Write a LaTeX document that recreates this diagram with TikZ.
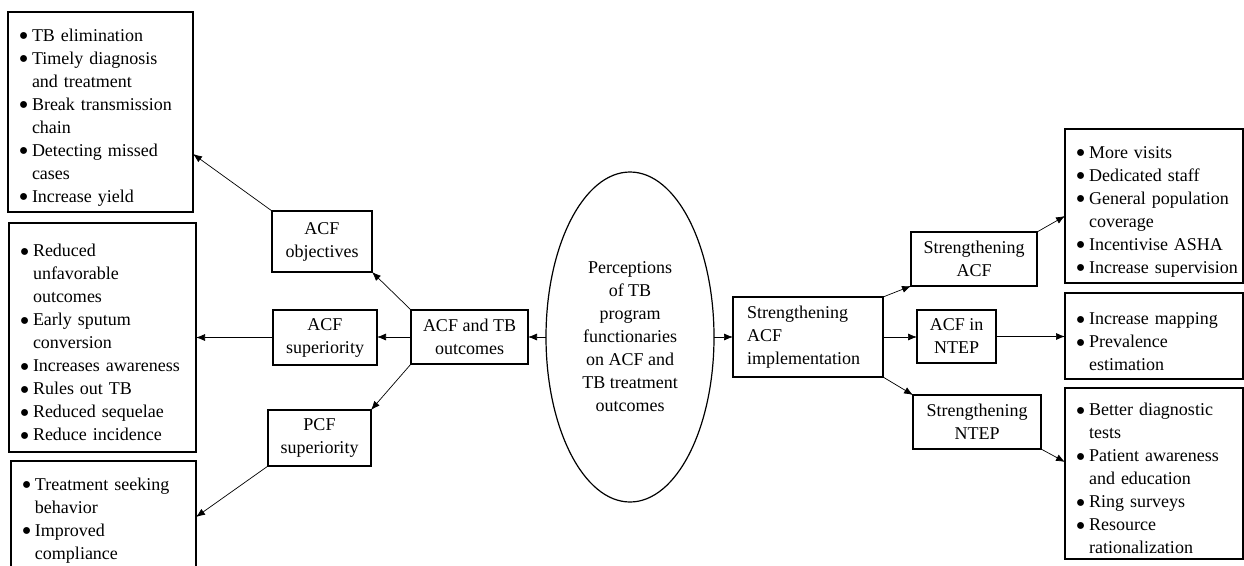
\documentclass[tikz,border=0pt]{standalone}
\usepackage{fontspec}
\setmainfont{Liberation Serif}
\usetikzlibrary{shapes.geometric,arrows.meta}
\newcommand\bi[1]{\par\noindent\makebox[12pt][l]{\hspace*{-1.5pt}\raisebox{-4.6pt}[0pt][0pt]{\scalebox{1.6}{\textbullet}}}\mbox{#1}}
\newcommand\cl[1]{\par\noindent\hspace*{12pt}\mbox{#1}}
\tikzset{
  box/.style={draw, line width=1.1pt, inner sep=0pt, outer sep=0pt, anchor=north west,
    font=\fontsize{18}{23}\selectfont},
  listbox/.style={box, inner xsep=12pt, align=left},
  smallbox/.style={box, align=center},
  conn/.style={-{Latex[length=9pt,width=7pt]}, line width=0.7pt}
}
\begin{document}
\begin{tikzpicture}[x=1pt,y=-1pt]
\useasboundingbox (0,0) rectangle (1244,565);
\clip (0,0) rectangle (1244,565);
\fill[white] (0,0) rectangle (1244,565);
% left lists
\node[listbox, minimum width=185pt, minimum height=200pt, text width=161pt] (b1) at (8,12)
 {\bi{TB elimination}\bi{Timely diagnosis}\cl{and treatment}\bi{Break transmission}\cl{chain}\bi{Detecting missed}\cl{cases}\bi{Increase yield}};
\node[listbox, minimum width=187pt, minimum height=229pt, text width=163pt] (b2) at (9,223)
 {\bi{Reduced}\cl{unfavorable}\cl{outcomes}\bi{Early sputum}\cl{conversion}\bi{Increases awareness}\bi{Rules out TB}\bi{Reduced sequelae}\bi{Reduce incidence}};
\node[listbox, minimum width=185pt, minimum height=108pt, text width=161pt] (b3) at (11,461)
 {\bi{Treatment seeking}\cl{behavior}\bi{Improved}\cl{compliance}};
% left small boxes
\node[smallbox, minimum width=100pt, minimum height=61pt] (acfobj) at (272,211) {ACF\\objectives};
\node[smallbox, minimum width=104pt, minimum height=55pt] (acfsup) at (273,310) {ACF\\superiority};
\node[smallbox, minimum width=103pt, minimum height=56pt] (pcfsup) at (268,410) {PCF\\superiority};
\node[smallbox, minimum width=117pt, minimum height=54pt] (acftb) at (411,310) {ACF and TB\\outcomes};
% centre
\node[draw, ellipse, line width=1.2pt, inner sep=0pt, outer sep=0pt, minimum width=168pt, minimum height=330pt,
  align=center, font=\fontsize{18}{23}\selectfont] (perc) at (630,337)
 {Perceptions\\of TB\\program\\functionaries\\on ACF and\\TB treatment\\outcomes};
% right
\node[listbox, inner xsep=14pt, minimum width=150pt, minimum height=80pt, text width=122pt] (impl) at (733,297)
 {Strengthening\par\noindent ACF\par\noindent implementation};
\node[smallbox, minimum width=126pt, minimum height=54pt] (sacf) at (911,232) {Strengthening\\ACF};
\node[smallbox, minimum width=79pt, minimum height=53pt] (acfntep) at (917,310) {ACF in\\NTEP};
\node[smallbox, minimum width=128pt, minimum height=54pt] (sntep) at (913,395) {Strengthening\\NTEP};
\node[listbox, minimum width=178pt, minimum height=154pt, text width=154pt] (tr) at (1065,129)
 {\bi{More visits}\bi{Dedicated staff}\bi{General population}\cl{coverage}\bi{Incentivise ASHA}\bi{Increase supervision}};
\node[listbox, minimum width=178pt, minimum height=86pt, text width=154pt] (mr) at (1065,293)
 {\bi{Increase mapping}\bi{Prevalence}\cl{estimation}};
\node[listbox, minimum width=178pt, minimum height=171pt, text width=154pt] (br) at (1065,388)
 {\bi{Better diagnostic}\cl{tests}\bi{Patient awareness}\cl{and education}\bi{Ring surveys}\bi{Resource}\cl{rationalization}};
% connectors
\draw[conn] (perc.west) -- (perc.west -| acftb.east);
\draw[conn] (perc.east) -- (perc.east -| impl.west);
\draw[conn] (acftb.north west) -- (acfobj.south east);
\draw[conn] (acftb.west) -- (acftb.west -| acfsup.east);
\draw[conn] (acftb.south west) -- (pcfsup.north east);
\draw[conn] (acfobj.north west) -- ([yshift=-42pt]b1.east);
\draw[conn] (acfsup.west) -- (acfsup.west -| b2.east);
\draw[conn] (pcfsup.south west) -- ([yshift=-56pt]b3.north east);
\draw[conn] (impl.north east) -- (sacf.south west);
\draw[conn] (impl.east) -- (impl.east -| acfntep.west);
\draw[conn] (impl.south east) -- (sntep.north west);
\draw[conn] (sacf.north east) -- ([yshift=-87pt]tr.north west);
\draw[conn] (acfntep.east) -- (acfntep.east -| mr.west);
\draw[conn] (sntep.south east) -- ([yshift=-74pt]br.north west);
\end{tikzpicture}
\end{document}
